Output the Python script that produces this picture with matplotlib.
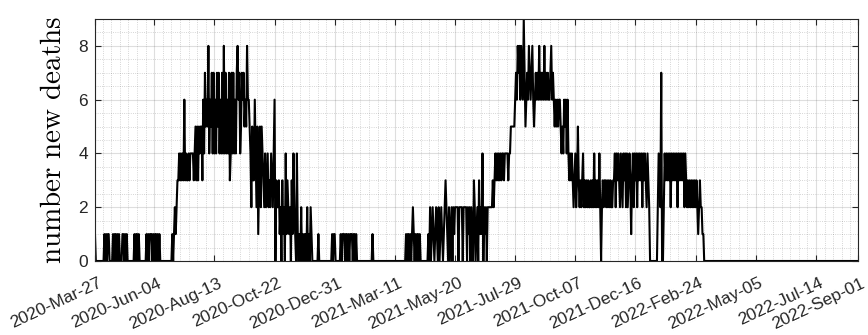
import numpy as np
import pandas as pd
import matplotlib
matplotlib.use('Agg')
import matplotlib.pyplot as plt
from matplotlib.ticker import MultipleLocator
from matplotlib.transforms import ScaledTranslation

plt.rcParams['font.family'] = ['Liberation Sans', 'DejaVu Sans']
plt.rcParams['mathtext.fontset'] = 'cm'

# daily new deaths (starts 2020-03-27)
wave0 = ["10", "000000000", "1010110", "000", "101101010", "00", "1101010",
         "0000000", "1011010", "0000000", "1010111010110101", "00000000000000"]
wave1_up = ["1012123", "34343436343", "343444434", "535354553"]
wave1_top = ["647565", "8", "46574746475746474", "8", "474647", "3", "47474647",
             "8", "674", "576756586"]
wave1_down = ["654253", "364251", "35254324234232432", "46032",
              "23120312041321203142104", "101020101102010210"]
quiet = ["0000001" + "0" * 15 + "10110" + "00000", "101110110101110110100",
         "0" * 16 + "1" + "0" * 38]
wave2_up = ["101101012101011010", "00000000",
            "10201210121020121012" + "3" + "2102012021",
            "2222022220222202", "120210" + "3" + "20120" + "3" + "121" + "4" + "021202",
            "2222", "232343434343443444434", "455555"]
wave2_top = ["67687868", "769",
             "75" + "6768767" + "8" + "65" + "67676" + "8" + "67676" + "8" + "6767667" + "8" + "676",
             "56565665", "45465646", "4343432"]
wave3 = ["3423" + "5" + "32323" + "4" + "232323223232" + "4" + "23232" + "4" + "2" + "0",
         "232332323232233",
         "4243432432434242343" + "1" + "342434243434243432432",
         "000000000", "2432700",
         "2434343424343434243434342432" + "323232323232" + "1" + "2322",
         "110"]
tail = ["0" * 179]

deaths = [int(c) for part in (wave0, wave1_up, wave1_top, wave1_down, quiet,
                              wave2_up, wave2_top, wave3, tail)
          for s in part for c in s]
days = np.arange(1, len(deaths) + 1)
dates = pd.date_range('2020-03-27', periods=len(deaths), freq='D')

tick_days = list(range(0, len(deaths), 70))
tick_days[0] = 1
tick_days.append(len(deaths))
tick_labels = [dates[d - 1].strftime('%Y-%b-%d') for d in tick_days]

fig = plt.figure(figsize=(8.68, 3.35), dpi=100)
ax = fig.add_axes([0.1094, 0.2209, 0.8791, 0.7224])

ax.plot(days, deaths, color='k', lw=1.5)

ax.set_xlim(1, len(deaths))
ax.set_ylim(0, 9)
ax.set_xticks(tick_days)
ax.set_xticklabels(tick_labels, rotation=25, ha='right', va='top',
                   rotation_mode='anchor', fontsize=12.5)
ax.set_yticks([0, 2, 4, 6, 8])
ax.xaxis.set_minor_locator(MultipleLocator(10))
ax.yaxis.set_minor_locator(MultipleLocator(0.5))

gray = (0.15, 0.15, 0.15)
ax.grid(True, which='major', color=gray, alpha=0.15, lw=0.8)
ax.grid(True, which='minor', color=gray, alpha=0.25, lw=0.6, ls=':')
ax.tick_params(which='both', direction='in', top=True, right=True, colors=gray)
ax.tick_params(axis='y', labelsize=12.5)
ax.tick_params(which='minor', length=0)
ax.tick_params(which='major', length=4)
ax.tick_params(axis='y', pad=5)
ax.tick_params(axis='x', pad=10.5)
# nudge the slanted date labels a bit to the right
shift = ScaledTranslation(3 / 100, 0, fig.dpi_scale_trans)
for lab in ax.get_xticklabels():
    lab.set_transform(lab.get_transform() + shift)
for sp in ax.spines.values():
    sp.set_color(gray)
    sp.set_linewidth(0.8)

ax.set_ylabel(r'$\mathrm{number\ new\ deaths}$', fontsize=21, labelpad=8.5)

fig.savefig('out.png', dpi=100)
